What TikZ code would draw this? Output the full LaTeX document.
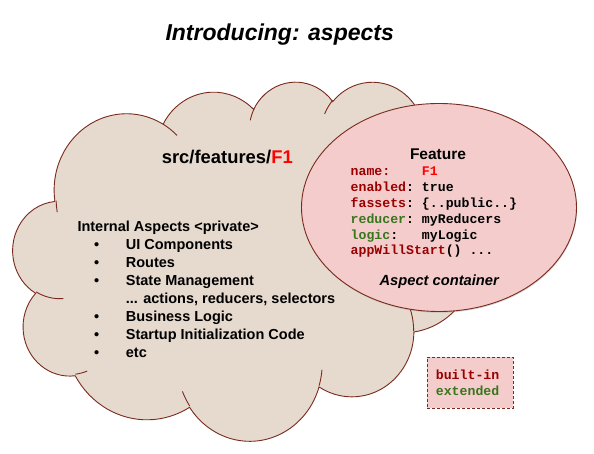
\documentclass[tikz,border=0pt]{standalone}
\usepackage{fontspec}
\setmainfont{Liberation Sans}
\setmonofont{Liberation Mono}
\usetikzlibrary{shapes.geometric,shadows}
\definecolor{cloudfill}{HTML}{E6DACF}
\definecolor{edgebrown}{HTML}{7A2A1E}
\definecolor{pinkfill}{HTML}{F4CCCC}
\definecolor{kwred}{HTML}{990000}
\definecolor{kwgreen}{HTML}{38761D}
\definecolor{brightred}{HTML}{FF0000}
\def\csx{10.7176}
\def\csy{8.3102}
\begin{document}
\begin{tikzpicture}[x=1pt,y=1pt,
  declare function={vtp(\pa,\pw,\ph)=\pa+mod(atan2(\pw*sin(\pa),\ph*cos(\pa))-\pa+900,360)-180;},
  carc/.style n args={4}{insert path={arc[start angle={-vtp(#3,#1,#2)},end angle={-vtp(#3+#4,#1,#2)},x radius={#1*\csx},y radius={#2*\csy}]}},
  cloudline/.style={draw=edgebrown,line width=0.9pt},
  txt/.style={inner sep=0pt,anchor=base west,font=\bfseries\fontsize{14.5}{17}\selectfont},
  bul/.style={inner sep=0pt,anchor=base,font=\bfseries\fontsize{14.5}{17}\selectfont},
  code/.style={inner sep=0pt,anchor=base west,font=\ttfamily\bfseries\fontsize{13.2}{16}\selectfont},
]
\useasboundingbox (0,0) rectangle (594,454);
\fill[white] (0,0) rectangle (594,454);
% cloud outline
\path[cloudline,fill=cloudfill] ({13+3.9*\csx},{373-14.37*\csy})
  [carc={6.753}{9.19}{-190.4875}{123.7805}]
  [carc={5.333}{7.267}{-144.1024}{89.9452}]
  [carc={4.365}{5.945}{-145.8079}{99.7230}]
  [carc={4.857}{6.595}{-130.9861}{117.2417}]
  [carc={5.333}{7.273}{-78.7089}{109.0269}]
  [carc={6.775}{9.22}{-46.2673}{130.2690}]
  [carc={5.785}{7.867}{0.6250}{114.0333}]
  [carc={6.752}{9.215}{22.4516}{115.1726}]
  [carc={7.72}{10.543}{66.2426}{75.7110}]
  [carc={4.36}{5.918}{-274.9421}{146.7356}]
  [carc={4.345}{5.945}{-246.8285}{152.5189}]
  -- cycle;
% inner arcs of the cloud
\draw[cloudline] ({13+4.693*\csx},{373-26.177*\csy}) [carc={4.345}{5.945}{86.7420}{26.4295}];
\draw[cloudline] ({13+6.928*\csx},{373-34.899*\csy}) [carc={4.36}{5.918}{73.6105}{11.4475}];
\draw[cloudline] ({13+16.478*\csx},{373-39.09*\csy}) [carc={6.752}{9.215}{137.6242}{14.0811}];
\draw[cloudline] ({13+28.827*\csx},{373-34.751*\csy}) [carc={6.752}{9.215}{6.4533}{15.9984}];
\draw[cloudline] ({13+34.129*\csx},{373-22.954*\csy}) [carc={5.785}{7.867}{-70.2924}{70.9174}];
\draw[cloudline] ({13+41.798*\csx},{373-15.354*\csy}) [carc={5.333}{7.273}{30.3180}{27.7515}];
\draw[cloudline] ({13+38.324*\csx},{373-5.426*\csy}) [carc={4.857}{6.595}{-13.7443}{14.8589}];
\draw[cloudline] ({13+29.078*\csx},{373-3.952*\csy}) [carc={4.857}{6.595}{-149.1815}{18.1954}];
\draw[cloudline] ({13+22.141*\csx},{373-4.72*\csy}) [carc={4.365}{5.945}{-163.4943}{17.6864}];
\draw[cloudline] ({13+14.0*\csx},{373-5.192*\csy}) [carc={6.753}{9.19}{-66.7070}{12.3194}];
\draw[cloudline] ({13+4.127*\csx},{373-15.789*\csy}) [carc={6.753}{9.19}{166.2262}{11.8574}];
% title
\node[inner sep=0pt,anchor=base,font=\bfseries\itshape\fontsize{23}{28}\selectfont] (title) at (279.7,413.3) {Introducing: aspects};
% cloud texts
\node[inner sep=0pt,anchor=base,font=\bfseries\fontsize{18.4}{22}\selectfont] (fpath) at (227.3,290.9) {src/features/{\color{brightred}F1}};
\node[txt] (intl) at (77.3,222.3) {Internal Aspects <private>};
\node[bul] (b1) at (96.7,204.7) {•};
\node[txt] (i1) at (125.7,204.7) {UI Components};
\node[bul] (b2) at (96.7,186.7) {•};
\node[txt] (i2) at (125.7,186.7) {Routes};
\node[bul] (b3) at (96.7,168.7) {•};
\node[txt] (i3) at (125.7,168.7) {State Management};
\node[txt] (i3b) at (125.7,150.7) {... actions, reducers, selectors};
\node[bul] (b4) at (96.7,132.7) {•};
\node[txt] (i4) at (125.7,132.7) {Business Logic};
\node[bul] (b5) at (96.7,114.7) {•};
\node[txt] (i5) at (125.7,114.7) {Startup Initialization Code};
\node[bul] (b6) at (96.7,96.7) {•};
\node[txt] (i6) at (125.7,96.7) {etc};
% feature ellipse
\node[ellipse,draw=edgebrown,line width=0.9pt,fill=pinkfill,minimum width=275pt,minimum height=208pt,inner sep=0pt,
  drop shadow={shadow xshift=0.6pt,shadow yshift=-1.2pt,opacity=0.3}] (feat) at (439,246.5) {};
\node[inner sep=0pt,anchor=base,font=\bfseries\fontsize{15.5}{18}\selectfont] (ftitle) at (438,294.7) {Feature};
\node[code] (c1) at (350.5,278) {\color{kwred}name:\color{black}\ \ \ \ {\color{brightred}F1}};
\node[code] (c2) at (350.5,262.2) {{\color{kwred}enabled}: true};
\node[code] (c3) at (350.5,246.4) {{\color{kwred}fassets}: \{..public..\}};
\node[code] (c4) at (350.5,230.6) {{\color{kwgreen}reducer}: myReducers};
\node[code] (c5) at (350.5,214.8) {{\color{kwgreen}logic}:\ \ \ myLogic};
\node[code] (c6) at (350.5,199) {{\color{kwred}appWillStart}() ...};
\node[inner sep=0pt,anchor=base,font=\bfseries\itshape\fontsize{14.7}{17}\selectfont] (acont) at (439.2,168.3) {Aspect container};
% legend
\node[draw=edgebrown,dash pattern=on 3pt off 2pt,line width=0.9pt,fill=pinkfill,minimum width=86pt,minimum height=51pt,inner sep=0pt] (legend) at (470.3,71.2) {};
\node[code] (l1) at (435.7,74.7) {\color{kwred}built-in};
\node[code] (l2) at (435.7,58.7) {\color{kwgreen}extended};
\end{tikzpicture}
\end{document}
